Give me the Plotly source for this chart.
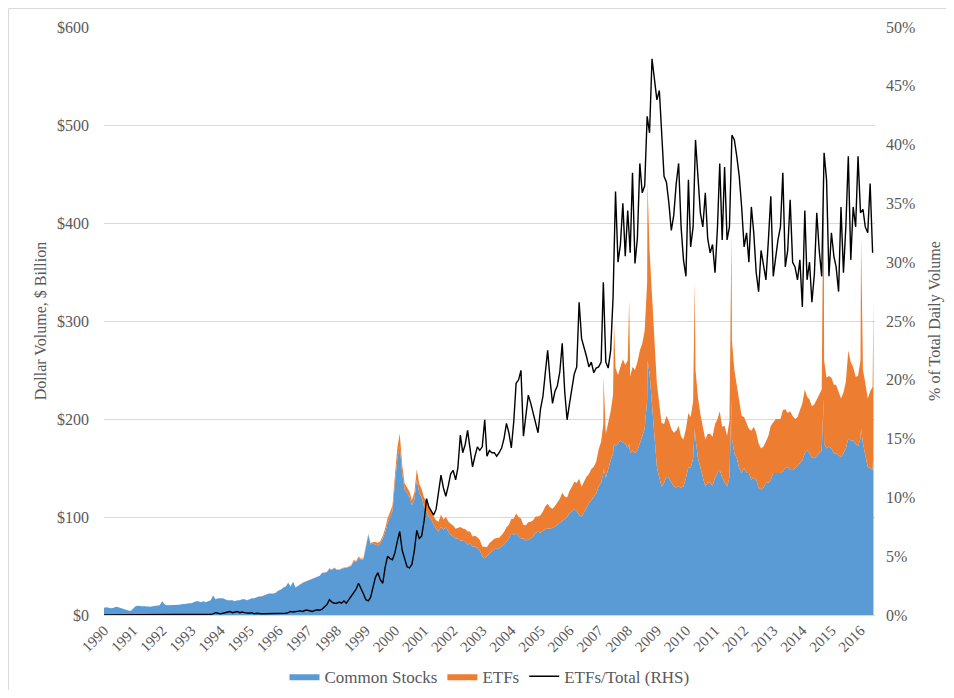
import pandas as pd
import plotly.graph_objects as go

# Monthly values (Jan 1990 - Jun 2016)
common_stocks = (
    [7.5, 8, 7.5, 7, 7.5, 8.5, 8, 7, 6, 5.5, 4.5, 4] +              # 1990
    [7, 9, 9.5, 9, 9, 9, 8.5, 8.5, 9, 9.5, 9.5, 10] +               # 1991
    [14, 11, 10, 10, 10, 10.5, 10, 10.5, 11, 11, 11.5, 12] +        # 1992
    [12, 13, 14, 14, 13, 14, 13, 14, 15, 20, 16, 17] +              # 1993
    [17, 17, 16, 15, 15, 15, 14, 15, 15, 16, 16, 15] +              # 1994
    [16, 17, 17, 18, 19, 19, 20, 21, 22, 22, 22, 23] +              # 1995
    [25, 26, 28, 29, 33, 29, 34, 28, 30, 31, 33, 34] +              # 1996
    [35, 36, 37, 38, 39, 40, 43, 43, 44, 47, 46, 48] +              # 1997
    [46, 46, 47, 48, 48, 49, 50, 55, 54, 58, 56, 57] +              # 1998
    [68, 82, 72, 73, 72, 71, 73, 78, 85, 94, 100, 106] +            # 1999
    [135, 160, 172, 145, 128, 125, 121, 112, 118, 138, 125, 120] +  # 2000
    [110, 105, 100, 98, 92, 88, 85, 90, 87, 90, 85, 82] +           # 2001
    [80, 78, 78, 76, 76, 75, 72, 73, 70, 70, 68, 66] +              # 2002
    [60, 58, 60, 63, 65, 67, 68, 68, 70, 72, 75, 78] +              # 2003
    [84, 82, 83, 80, 78, 78, 76, 77, 78, 80, 84, 85] +              # 2004
    [84, 86, 88, 88, 88, 89, 90, 92, 94, 96, 98, 100] +             # 2005
    [104, 106, 108, 106, 102, 100, 105, 110, 114, 117, 120, 124] +  # 2006
    [131, 135, 145, 140, 150, 158, 165, 172, 175, 178, 176, 175] +  # 2007
    [170, 165, 168, 165, 168, 175, 182, 190, 220, 247, 212, 180] +  # 2008
    [151, 140, 131, 135, 141, 140, 135, 131, 130, 131, 130, 131] +  # 2009
    [140, 151, 150, 160, 180, 160, 150, 140, 131, 135, 135, 132] +  # 2010
    [140, 145, 148, 140, 135, 131, 140, 180, 165, 160, 150, 145] +  # 2011
    [150, 145, 145, 138, 140, 138, 130, 128, 130, 135, 135, 138] +  # 2012
    [145, 145, 145, 145, 147, 150, 151, 148, 148, 150, 152, 155] +  # 2013
    [158, 165, 168, 165, 161, 160, 162, 165, 168, 175, 170, 172] +  # 2014
    [170, 165, 165, 163, 161, 165, 170, 180, 178, 178, 175, 172] +  # 2015
    [180, 175, 165, 151, 150, 148]                                  # 2016
)

etfs = (
    [0] * 12 + [0] * 12 + [0] * 12 +                                          # 1990-1992
    [0, 0, 0, 0, 0.01, 0.01, 0.01, 0.01, 0.01, 0.02, 0.03, 0.03] +            # 1993
    [0.02, 0.03, 0.03, 0.04, 0.05, 0.03, 0.04, 0.05, 0.03, 0.04, 0.03, 0.02] +  # 1994
    [0.02, 0.03, 0.02, 0.03, 0.02, 0.02, 0.02, 0.02, 0.02, 0.02, 0.02, 0.02] +  # 1995
    [0.03, 0.03, 0.03, 0.04, 0.07, 0.09, 0.09, 0.08, 0.09, 0.11, 0.1, 0.14] +   # 1996
    [0.14, 0.13, 0.11, 0.15, 0.18, 0.16, 0.22, 0.26, 0.4, 0.62, 0.51, 0.48] +   # 1997
    [0.46, 0.51, 0.47, 0.58, 0.48, 0.64, 0.8, 1.05, 1.2, 1.6, 1.3, 1.0] +       # 1998
    [0.9, 1.0, 1.1, 1.6, 2.4, 2.6, 2.3, 2.6, 3.5, 4.9, 5.0, 5.8] +              # 1999
    [7.5, 10.8, 13.1, 8.4, 6.4, 5.4, 5.0, 5.0, 6.9, 10.7, 8.7, 8.6] +           # 2000
    [9.6, 11.7, 10.1, 9.5, 8.6, 8.7, 10.1, 12.2, 10.5, 10.1, 10.5, 11.2] +      # 2001
    [11.2, 10.1, 11.1, 13.7, 12.3, 12.7, 13.3, 12.2, 10.1, 10.9, 11.3, 10.7] +  # 2002
    [10, 11.5, 9.4, 10.3, 10.4, 10.8, 10.6, 10.9, 11.6, 12.7, 14.6, 14.2] +     # 2003
    [13.9, 16.4, 20.5, 20.0, 20.5, 13.8, 15.6, 17.7, 17.1, 16.7, 16.6, 15.6] +  # 2004
    [17.9, 19.6, 22.7, 25.5, 22, 19.5, 21.1, 22.3, 24.6, 28.8, 23, 19.9] +      # 2005
    [22.8, 25.2, 27.9, 28.6, 37.0, 30.8, 31.1, 31.0, 30.0, 32, 31.2, 32.5] +    # 2006
    [38, 42, 50, 45, 45, 50, 60, 80, 70, 75, 85, 80] +                          # 2007
    [90, 78, 85, 85, 90, 95, 95, 100, 120, 125, 110, 100] +                     # 2008
    [85, 75, 65, 60, 62, 58, 55, 55, 58, 62, 52, 48] +                          # 2009
    [50, 55, 52, 58, 70, 62, 55, 50, 48, 50, 50, 50] +                          # 2010
    [55, 55, 60, 52, 58, 52, 58, 100, 85, 75, 65, 58] +                         # 2011
    [52, 50, 45, 50, 52, 48, 45, 42, 42, 42, 48, 55] +                          # 2012
    [52, 55, 55, 55, 62, 60, 55, 60, 55, 50, 50, 55] +                          # 2013
    [58, 65, 55, 55, 52, 55, 58, 60, 62, 85, 72, 72] +                          # 2014
    [72, 70, 70, 65, 60, 62, 68, 90, 80, 75, 68, 72] +                          # 2015
    [80, 75, 72, 70, 78, 85]                                                    # 2016
)

# Single-day volume spikes visible in the reference
spike_dates = ["2007-03-03", "2007-07-13", "2008-01-19", "2008-09-05", "2010-04-22",
               "2011-07-27", "2014-09-26", "2016-01-08", "2016-06-12"]
spike_stocks = [150, 175, 175, 260, 190, 220, 220, 190, 170]
spike_etfs = [93, 123, 146, 182, 149, 171, 251, 195, 151]

etf_share_pct = (
    [0] * 12 + [0] * 12 + [0] * 12 +                                          # 1990-1992
    [0, 0.02, 0.03, 0.03, 0.04, 0.05, 0.05, 0.05, 0.06, 0.1, 0.2, 0.15] +     # 1993
    [0.1, 0.15, 0.2, 0.25, 0.3, 0.2, 0.25, 0.3, 0.2, 0.25, 0.2, 0.15] +       # 1994
    [0.15, 0.2, 0.1, 0.15, 0.1, 0.1, 0.1, 0.1, 0.1, 0.1, 0.1, 0.1] +          # 1995
    [0.1, 0.1, 0.1, 0.15, 0.2, 0.3, 0.25, 0.3, 0.3, 0.35, 0.3, 0.4] +         # 1996
    [0.4, 0.35, 0.3, 0.4, 0.45, 0.4, 0.5, 0.7, 0.9, 1.3, 1.1, 1.0] +          # 1997
    [1.0, 1.1, 1.0, 1.2, 1.0, 1.3, 1.6, 1.9, 2.2, 2.7, 2.3, 1.8] +            # 1998
    [1.3, 1.2, 1.5, 2.4, 3.2, 3.6, 3.0, 2.7, 4.1, 5.0, 4.8, 4.7] +            # 1999
    [5.3, 6.3, 7.1, 5.5, 4.8, 4.1, 4.0, 4.3, 5.5, 7.2, 6.5, 6.7] +            # 2000
    [8.0, 9.9, 9.2, 8.8, 8.5, 9.0, 10.6, 11.9, 10.8, 10.1, 11.0, 12.0] +      # 2001
    [12.3, 11.5, 12.5, 15.3, 13.8, 14.5, 15.7, 14.3, 12.6, 13.5, 14.3, 14.0] +  # 2002
    [14.3, 16.6, 13.5, 14.0, 13.8, 13.8, 13.5, 13.8, 14.2, 15.0, 16.3, 15.5] +  # 2003
    [14.2, 16.5, 19.7, 20.0, 20.8, 15.2, 17.0, 18.7, 18.0, 17.2, 16.5, 15.5] +  # 2004
    [17.5, 18.6, 20.5, 22.5, 20.0, 18.0, 19.0, 19.5, 20.7, 23.1, 19.0, 16.6] +  # 2005
    [18.0, 19.4, 20.5, 21.1, 26.6, 23.5, 22.8, 22.0, 21.1, 21.5, 20.6, 21.0] +  # 2006
    [21.1, 21.5, 28.3, 21.5, 21.0, 22.5, 27.0, 36.0, 30.0, 31.5, 35.0, 30.5] +  # 2007
    [34.4, 30.8, 37.6, 29.9, 32.0, 38.4, 35.9, 36.5, 42.4, 41.0, 47.3, 45.5] +  # 2008
    [43.8, 44.6, 41.2, 37.3, 36.8, 35.0, 32.7, 34.0, 36.7, 38.4, 33.0, 30.2] +  # 2009
    [28.8, 37.0, 31.3, 33.0, 40.4, 37.0, 34.2, 33.0, 35.9, 32.0, 30.8, 31.5] +  # 2010
    [29.1, 33.0, 38.4, 31.9, 38.1, 31.9, 33.0, 40.8, 40.4, 39.0, 37.3, 34.7] +  # 2011
    [31.3, 32.5, 30.0, 34.7, 32.5, 29.1, 27.5, 31.0, 29.6, 28.5, 31.9, 35.6] +  # 2012
    [28.8, 30.5, 31.9, 33.0, 37.6, 29.6, 31.0, 35.3, 30.0, 29.6, 28.5, 30.2] +  # 2013
    [26.2, 34.4, 28.5, 30.0, 26.6, 29.0, 34.2, 31.0, 28.8, 39.3, 37.0, 28.8] +  # 2014
    [32.5, 30.5, 29.6, 27.5, 34.7, 29.1, 33.0, 39.0, 30.2, 34.7, 33.0, 39.0] +  # 2015
    [34.2, 34.5, 33.0, 32.5, 36.7, 30.8]                                        # 2016
)

months = pd.date_range("1990-01-01", periods=len(common_stocks), freq="MS")
vol = pd.concat([
    pd.DataFrame({"date": months, "stocks": common_stocks, "etfs": etfs}),
    pd.DataFrame({"date": pd.to_datetime(spike_dates), "stocks": spike_stocks,
                  "etfs": spike_etfs}),
]).sort_values("date")

year_ticks = [f"{y}-01-01" for y in range(1990, 2017)]
year_labels = [str(y) for y in range(1990, 2017)]

FONT = "Liberation Serif, Times New Roman, serif"
GREY = "#595959"
BLUE = "#5B9BD5"
ORANGE = "#ED7D31"

fig = go.Figure()
fig.add_trace(go.Scatter(
    x=vol["date"], y=vol["stocks"], name="Common Stocks", stackgroup="vol",
    mode="lines", line=dict(width=0, color=BLUE), fillcolor=BLUE))
fig.add_trace(go.Scatter(
    x=vol["date"], y=vol["etfs"], name="ETFs", stackgroup="vol",
    mode="lines", line=dict(width=0, color=ORANGE), fillcolor=ORANGE))
fig.add_trace(go.Scatter(
    x=months, y=[v / 100 for v in etf_share_pct], name="ETFs/Total (RHS)",
    mode="lines", line=dict(width=1.4, color="black"), yaxis="y2"))

# The page body adds an 8px offset, so the figure is 946x682 placed at (8, 8)
fig.update_layout(
    width=946, height=682,
    margin=dict(l=96, r=79, t=19, b=75, autoexpand=False),
    paper_bgcolor="white", plot_bgcolor="white",
    font=dict(family=FONT, color=GREY, size=16),
    showlegend=True,
    legend=dict(orientation="h", x=0.5, xanchor="center", y=-0.105,
                yanchor="middle", font=dict(size=17, color=GREY),
                traceorder="normal", itemwidth=30),
    xaxis=dict(
        type="date", range=["1990-01-01", "2016-07-01"],
        tickmode="array", tickvals=year_ticks, ticktext=year_labels,
        tickangle=-45, tickfont=dict(size=15, color=GREY),
        showgrid=False, showline=True, linecolor="#D9D9D9", linewidth=1,
        ticks="", zeroline=False, automargin=False),
    yaxis=dict(
        range=[0, 600], dtick=100, tickprefix="$", tickformat=",d",
        showgrid=True, gridcolor="#D9D9D9", gridwidth=1, zeroline=False,
        tickfont=dict(size=16, color=GREY), ticklabelstandoff=14, automargin=False,
        title=dict(text="Dollar Volume, $ Billion", font=dict(size=16, color=GREY),
                   standoff=6)),
    yaxis2=dict(
        range=[0, 0.5], dtick=0.05, tickformat=".0%", overlaying="y", side="right",
        showgrid=False, zeroline=False, tickfont=dict(size=16, color=GREY),
        ticklabelstandoff=10, automargin=False,
        title=dict(text="% of Total Daily Volume", font=dict(size=16, color=GREY),
                   standoff=14)),
    shapes=[
        dict(type="line", xref="paper", yref="paper", x0=-0.1238, x1=1.2,
             y0=1.0315, y1=1.0315, line=dict(color="#D9D9D9", width=1)),
        dict(type="line", xref="paper", yref="paper", x0=-0.1238, x1=-0.1238,
             y0=-0.3, y1=1.0315, line=dict(color="#D9D9D9", width=1)),
    ],
)

fig.write_html("out.html")
